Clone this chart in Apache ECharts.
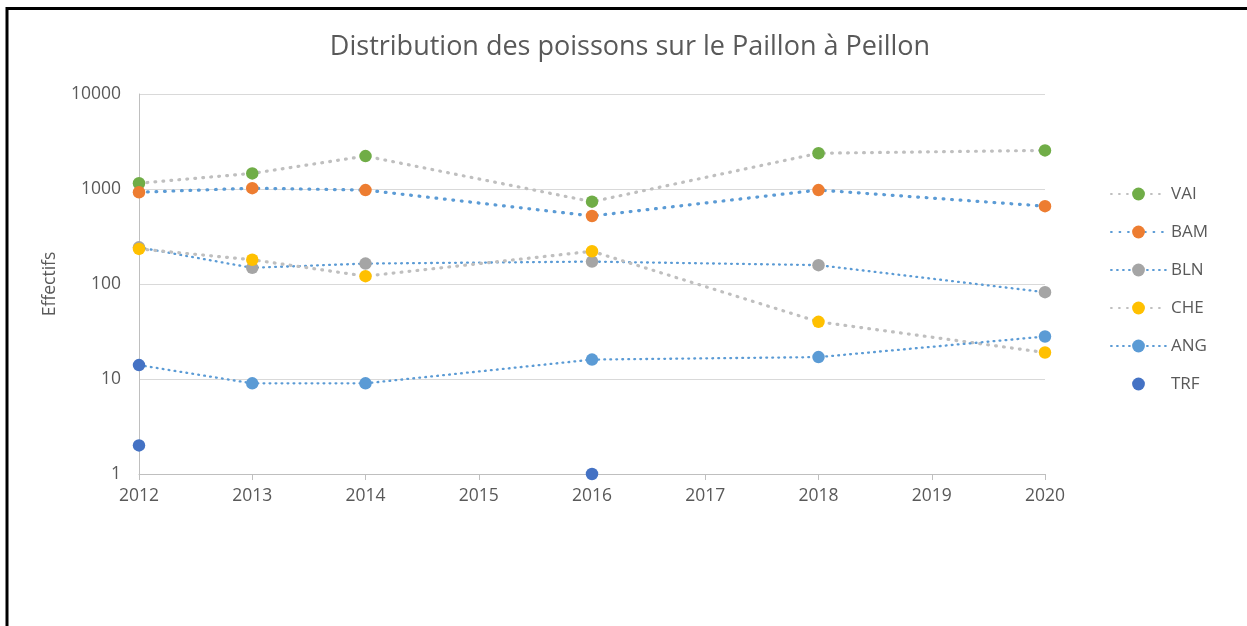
<!DOCTYPE html>
<html>
<head>
<meta charset="utf-8">
<script src="https://cdn.jsdelivr.net/npm/echarts@6/dist/echarts.min.js"></script>
<style>
html,body{margin:0;padding:0;background:#fff;}
#chart{width:1247px;height:626px;}
</style>
</head>
<body>
<div id="chart"></div>
<script>
const years = [2012, 2013, 2014, 2016, 2018, 2020];
const VAI = [1150, 1460, 2220, 735, 2380, 2550];
const BAM = [925, 1020, 975, 520, 975, 660];
const BLN = [243, 148, 164, 172, 158, 82];
const CHE = [234, 180, 121, 221, 40, 19];
const ANG = [14, 9, 9, 16, 17, 28];
const trfYears = [2012, 2016];
const TRF = [2, 1];
const yTicks = [1, 10, 100, 1000, 10000];
const titleText = 'Distribution des poissons sur le Paillon à Peillon';
const yName = 'Effectifs';

const FONT = 'Open Sans';
const TXT = '#595959';
const GRAY_LINE = '#BFBFBF';
const BLUE_LINE = '#5B9BD5';

function pairs(xs, ys) { return xs.map((x, i) => [x, ys[i]]); }

function lineSeries(name, vals, markerColor, lineColor, w, period, extra) {
  let data = pairs(years, vals);
  if (extra) data = extra(data);
  return {
    name: name,
    type: 'line',
    data: data,
    symbol: 'circle',
    symbolSize: 12.5,
    showSymbol: true,
    itemStyle: { color: markerColor, borderWidth: 0, opacity: 1 },
    lineStyle: { color: lineColor, width: w, type: [0.8, period - 0.8], cap: 'round' },
    emphasis: { disabled: true },
    animation: false
  };
}

const chart = echarts.init(document.getElementById('chart'), null, { renderer: 'canvas' });
chart.setOption({
  backgroundColor: '#ffffff',
  animation: false,
  title: {
    text: titleText,
    left: 625,
    textAlign: 'center',
    top: 29,
    textStyle: { fontFamily: FONT, fontSize: 27, fontWeight: 'normal', color: TXT }
  },
  grid: { left: 139, right: 202, top: 94, bottom: 152, containLabel: false },
  legend: {
    orient: 'vertical',
    left: 1105,
    top: 179,
    itemWidth: 55,
    itemHeight: 16,
    itemGap: 18,
    selectedMode: false,
    textStyle: { fontFamily: FONT, fontSize: 17, color: TXT, lineHeight: 20, padding: [0, 0, 0, 0] },
    data: ['VAI', 'BAM', 'BLN', 'CHE', 'ANG', 'TRF']
  },
  xAxis: {
    type: 'value',
    min: 2012,
    max: 2020,
    interval: 1,
    axisLine: { show: true, lineStyle: { color: GRAY_LINE, width: 1 } },
    axisTick: { show: true, length: 6, inside: false, lineStyle: { color: GRAY_LINE } },
    splitLine: { show: false },
    axisLabel: { fontFamily: FONT, fontSize: 17.5, color: TXT, margin: 13, formatter: v => String(v) }
  },
  yAxis: {
    type: 'log',
    logBase: 10,
    min: yTicks[0],
    max: yTicks[yTicks.length - 1],
    name: yName,
    nameLocation: 'middle',
    nameGap: 80,
    nameTextStyle: { fontFamily: FONT, fontSize: 17.5, color: TXT },
    axisLine: { show: true, lineStyle: { color: GRAY_LINE, width: 1 } },
    axisTick: { show: false },
    splitLine: { show: true, lineStyle: { color: '#D9D9D9', width: 1 } },
    axisLabel: { fontFamily: FONT, fontSize: 17.5, color: TXT, margin: 18, formatter: v => String(Math.round(v)) }
  },
  graphic: [{
    type: 'polyline',
    shape: { points: [[7, 626], [7, 8.5], [1247, 8.5]] },
    style: { stroke: '#000', lineWidth: 3, fill: null },
    silent: true,
    z: 100
  }],
  series: [
    lineSeries('VAI', VAI, '#70AD47', GRAY_LINE, 3.2, 8),
    lineSeries('BAM', BAM, '#ED7D31', BLUE_LINE, 3.2, 8.5),
    lineSeries('BLN', BLN, '#A5A5A5', BLUE_LINE, 2.3, 6),
    lineSeries('CHE', CHE, '#FFC000', GRAY_LINE, 3.2, 8),
    lineSeries('ANG', ANG, '#5B9BD5', BLUE_LINE, 2.3, 6,
      d => d.map((p, i) => i === 0 ? { value: p, itemStyle: { color: '#4472C4' } } : p)),
    {
      name: 'TRF',
      type: 'line',
      data: pairs(trfYears, TRF),
      symbol: 'circle',
      symbolSize: 12.5,
      showSymbol: true,
      itemStyle: { color: '#4472C4', opacity: 1 },
      lineStyle: { opacity: 0, width: 0 },
      emphasis: { disabled: true },
      animation: false
    }
  ]
});
</script>
</body>
</html>
